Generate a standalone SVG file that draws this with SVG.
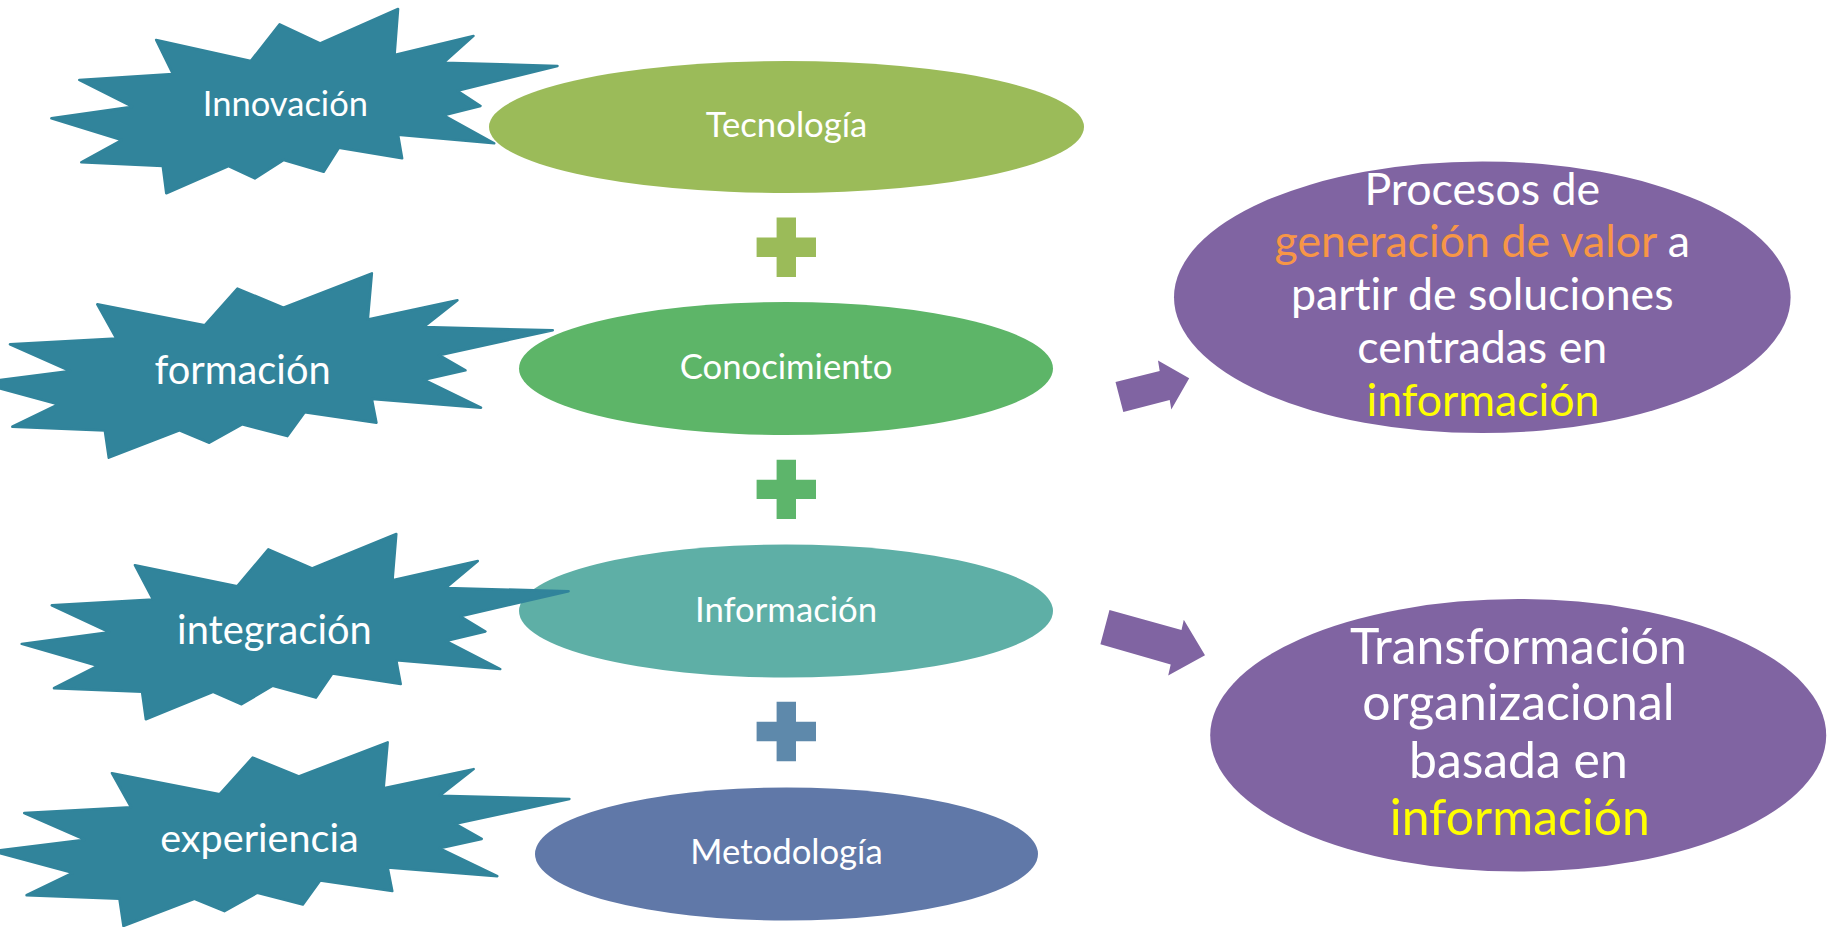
<svg xmlns="http://www.w3.org/2000/svg" xmlns:xlink="http://www.w3.org/1999/xlink" width="1835" height="927" viewBox="0 0 1835 927">
<style>
  .lbl { font-family: Lato, "Open Sans", "Liberation Sans", sans-serif; fill: #ffffff; text-anchor: middle; font-variant-ligatures: none; }
  .star { fill: #31849B; stroke: #31849B; stroke-width: 2.5; stroke-linejoin: round; }
  .purple { fill: #8064A2; }
  .org { fill: #F79646; }
  .yel { fill: #FFFF00; }
</style>
<defs>
  <path id="starShape" vector-effect="non-scaling-stroke" d="M0,593 L160,530 L55,385 L240,353 L207,168 L394,282 L451,83 L531,186 L685,0 L678,250 L834,146 L775,291 L1000,309 L802,444 L848,526 L775,577 L875,729 L685,682 L693,810 L568,753 L538,883 L459,819 L402,919 L350,852 L227,1000 L220,852 L59,832 L139,711 Z"/>
  <path id="plusShape" d="M-9.7,-29.7 H9.7 V-9.7 H29.7 V9.7 H9.7 V29.7 H-9.7 V9.7 H-29.7 V-9.7 H-9.7 Z"/>
</defs>
<rect width="1835" height="927" fill="#ffffff"/>

<g id="node-tecnologia">
  <ellipse cx="786.5" cy="127" rx="297.5" ry="66" fill="#9BBB59"/>
  <text class="lbl" x="786.5" y="137" font-size="34.7">Tecnología</text>
</g>
<g id="node-conocimiento">
  <ellipse cx="786" cy="368.5" rx="267" ry="66.5" fill="#5DB568"/>
  <text class="lbl" x="786" y="379.3" font-size="34.7">Conocimiento</text>
</g>
<g id="node-informacion">
  <ellipse cx="786" cy="611" rx="267" ry="66.5" fill="#5EAFA6"/>
  <text class="lbl" x="786" y="621.8" font-size="34.7">Información</text>
</g>
<g id="node-metodologia">
  <ellipse cx="786.5" cy="854" rx="251.5" ry="66.5" fill="#6078A8"/>
  <text class="lbl" x="786.5" y="864.3" font-size="34.7">Metodología</text>
</g>

<g id="plus-1"><use xlink:href="#plusShape" href="#plusShape" transform="translate(786.3,247.3)" fill="#9BBB59"/></g>
<g id="plus-2"><use xlink:href="#plusShape" href="#plusShape" transform="translate(786.3,489.4)" fill="#5DB56B"/></g>
<g id="plus-3"><use xlink:href="#plusShape" href="#plusShape" transform="translate(786.3,731.5)" fill="#5E89AB"/></g>

<g id="node-innovacion">
  <use class="star" xlink:href="#starShape" href="#starShape" transform="translate(51.4,9) scale(0.5061,0.1843)"/>
  <text class="lbl" x="285.4" y="116.3" font-size="34.5">Innovación</text>
</g>
<g id="node-formacion">
  <use class="star" xlink:href="#starShape" href="#starShape" transform="translate(-21.6,273.3) scale(0.5744,0.1844)"/>
  <text class="lbl" x="242.6" y="383.6" font-size="39.8">formación</text>
</g>
<g id="node-integracion">
  <use class="star" xlink:href="#starShape" href="#starShape" transform="translate(21.7,534) scale(0.5469,0.1853)"/>
  <text class="lbl" x="274.4" y="644.3" font-size="39.8">integración</text>
</g>
<g id="node-experiencia">
  <use class="star" xlink:href="#starShape" href="#starShape" transform="translate(-7.5,742.3) scale(0.5769,0.1837)"/>
  <text class="lbl" x="259.4" y="852" font-size="39.6">experiencia</text>
</g>

<g id="node-procesos">
  <ellipse class="purple" cx="1482.3" cy="297.3" rx="308.3" ry="135.8"/>
  <text class="lbl" font-size="44.7">
    <tspan x="1488" y="204.5">Procesos de</tspan>
    <tspan x="1488" y="257.4"><tspan class="org">generación de valor</tspan> a</tspan>
    <tspan x="1488" y="310.3">partir de soluciones</tspan>
    <tspan x="1488" y="363.2">centradas en</tspan>
    <tspan x="1483" y="415.5" class="yel">información</tspan>
  </text>
</g>
<g id="node-transformacion">
  <ellipse class="purple" cx="1518.2" cy="735.3" rx="308" ry="136.3"/>
  <text class="lbl" font-size="49.9">
    <tspan x="1524.8" y="663.5">Transformación</tspan>
    <tspan x="1524.8" y="720.2">organizacional</tspan>
    <tspan x="1524.8" y="777.5">basada en</tspan>
    <tspan x="1519.8" y="835" class="yel">información</tspan>
  </text>
</g>

<g id="connectors">
  <polygon class="purple" points="1115.5,382 1159.7,371 1158,360.5 1189.2,378.3 1171.3,409.5 1169.7,400 1123.3,412"/>
  <polygon class="purple" points="1109.5,610 1181.5,630 1183.8,619.7 1205,655.2 1168.2,675.5 1170.7,664.5 1100.4,644.2"/>
</g>
</svg>
